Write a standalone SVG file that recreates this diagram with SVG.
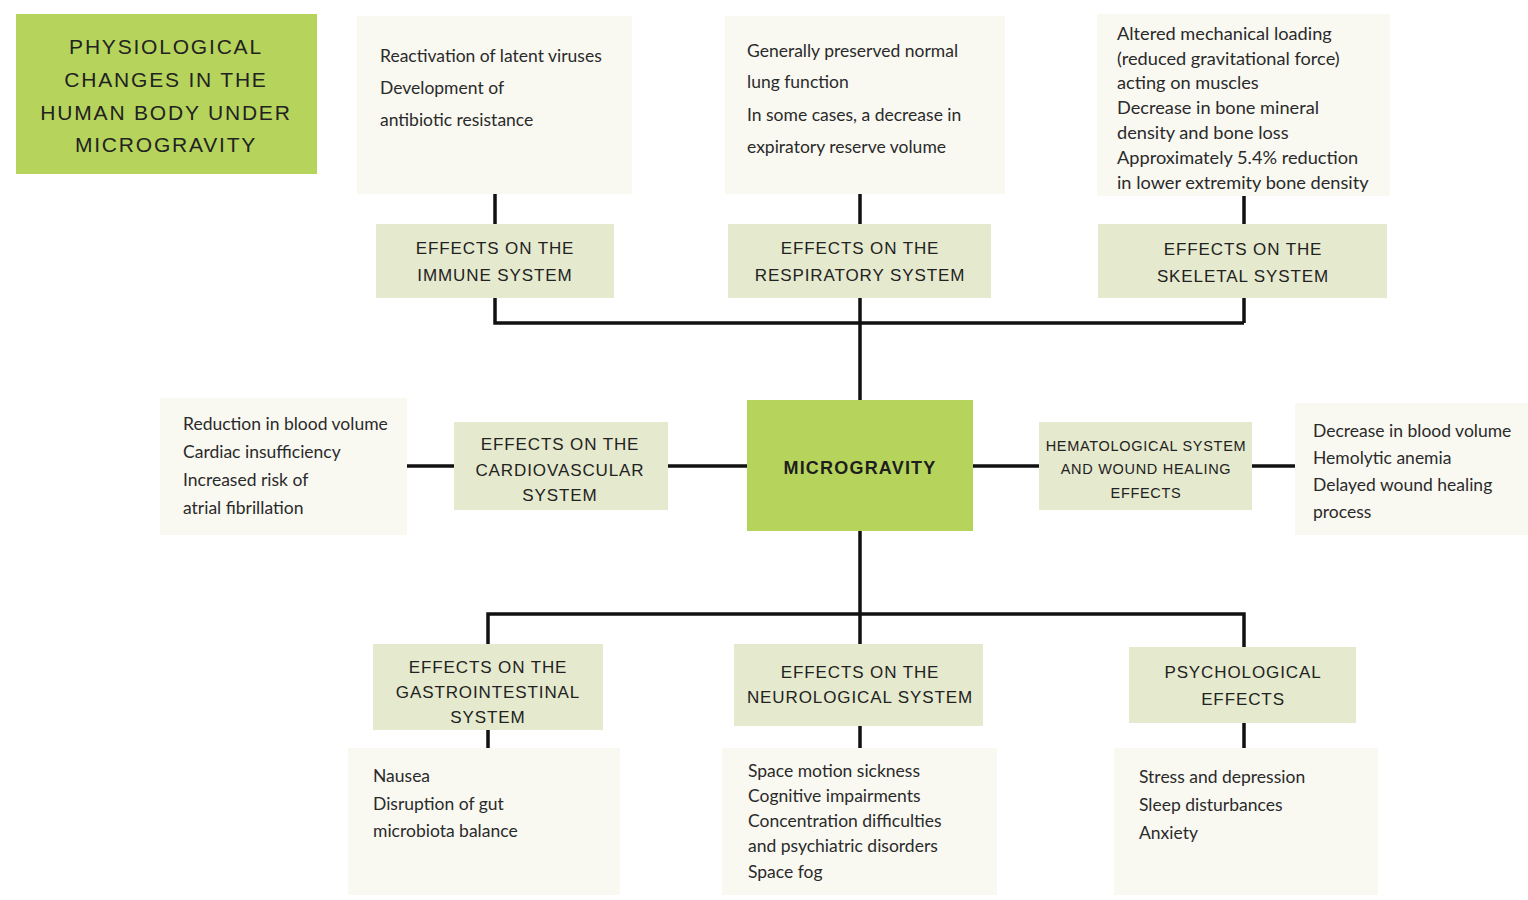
<svg xmlns="http://www.w3.org/2000/svg" width="1528" height="900" viewBox="0 0 1528 900">
<style>
.bg{fill:#ffffff}
.green{fill:#b6d45c}
.head{fill:#e5e9cd}
.box{fill:#f9f9f2}
.ht{font-family:"Liberation Sans",Arial,sans-serif;font-size:17px;letter-spacing:0.9px;fill:#222;text-anchor:middle}
.hs{font-family:"Liberation Sans",Arial,sans-serif;font-size:14.5px;letter-spacing:0.7px;fill:#222;text-anchor:middle}
.tt{font-family:"Liberation Sans",Arial,sans-serif;font-size:21px;letter-spacing:1.8px;fill:#222;text-anchor:middle}
.mt{font-family:"Liberation Sans",Arial,sans-serif;font-size:18px;font-weight:bold;letter-spacing:1.2px;fill:#1e1e1e;text-anchor:middle}
.bt{font-family:Lato,"Liberation Sans",sans-serif;font-size:17.5px;fill:#2a2a2a}
.bw{font-size:18.2px}
.conn{stroke:#111;stroke-width:3.5;fill:none}
</style>
<rect class="bg" x="0" y="0" width="1528" height="900"/>
<g id="connectors">
<path class="conn" d="M495 194V224M495 298V323H1244M860 194V224M860 298V400M1244 196V224M1244 298V323"/>
<path class="conn" d="M407 466H454M668 466H747M973 466H1039M1252 466H1295"/>
<path class="conn" d="M860 531V614M488 644V614H1244V647M860 614V644"/>
<path class="conn" d="M488 730V748M860 726V748M1244 723V748"/>
</g>
<g id="title">
<rect class="green" x="16" y="14" width="301" height="160"/>
<text class="tt" x="166" y="54">PHYSIOLOGICAL</text>
<text class="tt" x="166" y="87">CHANGES IN THE</text>
<text class="tt" x="166" y="120">HUMAN BODY UNDER</text>
<text class="tt" x="166" y="152">MICROGRAVITY</text>
</g>
<g id="immune-text">
<rect class="box" x="357" y="16" width="275" height="178"/>
<text class="bt" x="380" y="62">Reactivation of latent viruses</text>
<text class="bt" x="380" y="94">Development of</text>
<text class="bt" x="380" y="126">antibiotic resistance</text>
</g>
<g id="respiratory-text">
<rect class="box" x="725" y="16" width="280" height="178"/>
<text class="bt" x="747" y="57">Generally preserved normal</text>
<text class="bt" x="747" y="88">lung function</text>
<text class="bt" x="747" y="121">In some cases, a decrease in</text>
<text class="bt" x="747" y="153">expiratory reserve volume</text>
</g>
<g id="skeletal-text">
<rect class="box" x="1097" y="14" width="293" height="182"/>
<text class="bt bw" x="1117" y="40">Altered mechanical loading</text>
<text class="bt bw" x="1117" y="65">(reduced gravitational force)</text>
<text class="bt bw" x="1117" y="89">acting on muscles</text>
<text class="bt bw" x="1117" y="114">Decrease in bone mineral</text>
<text class="bt bw" x="1117" y="139">density and bone loss</text>
<text class="bt bw" x="1117" y="164">Approximately 5.4% reduction</text>
<text class="bt bw" x="1117" y="189">in lower extremity bone density</text>
</g>
<g id="immune">
<rect class="head" x="376" y="224" width="238" height="74"/>
<text class="ht" x="495" y="254">EFFECTS ON THE</text>
<text class="ht" x="495" y="281">IMMUNE SYSTEM</text>
</g>
<g id="respiratory">
<rect class="head" x="728" y="224" width="263" height="74"/>
<text class="ht" x="860" y="254">EFFECTS ON THE</text>
<text class="ht" x="860" y="281">RESPIRATORY SYSTEM</text>
</g>
<g id="skeletal">
<rect class="head" x="1098" y="224" width="289" height="74"/>
<text class="ht" x="1243" y="255">EFFECTS ON THE</text>
<text class="ht" x="1243" y="282">SKELETAL SYSTEM</text>
</g>
<g id="microgravity">
<rect class="green" x="747" y="400" width="226" height="131"/>
<text class="mt" x="860" y="474">MICROGRAVITY</text>
</g>
<g id="cardio-text">
<rect class="box" x="160" y="398" width="247" height="137"/>
<text class="bt" x="183" y="430">Reduction in blood volume</text>
<text class="bt" x="183" y="458">Cardiac insufficiency</text>
<text class="bt" x="183" y="486">Increased risk of</text>
<text class="bt" x="183" y="514">atrial fibrillation</text>
</g>
<g id="cardiovascular">
<rect class="head" x="454" y="422" width="214" height="88"/>
<text class="ht" x="560" y="450">EFFECTS ON THE</text>
<text class="ht" x="560" y="476">CARDIOVASCULAR</text>
<text class="ht" x="560" y="501">SYSTEM</text>
</g>
<g id="hematological">
<rect class="head" x="1039" y="422" width="213" height="88"/>
<text class="hs" x="1146" y="451">HEMATOLOGICAL SYSTEM</text>
<text class="hs" x="1146" y="474">AND WOUND HEALING</text>
<text class="hs" x="1146" y="498">EFFECTS</text>
</g>
<g id="hemat-text">
<rect class="box" x="1295" y="403" width="233" height="132"/>
<text class="bt" x="1313" y="437">Decrease in blood volume</text>
<text class="bt" x="1313" y="464">Hemolytic anemia</text>
<text class="bt" x="1313" y="491">Delayed wound healing</text>
<text class="bt" x="1313" y="518">process</text>
</g>
<g id="gastrointestinal">
<rect class="head" x="373" y="644" width="230" height="86"/>
<text class="ht" x="488" y="673">EFFECTS ON THE</text>
<text class="ht" x="488" y="698">GASTROINTESTINAL</text>
<text class="ht" x="488" y="723">SYSTEM</text>
</g>
<g id="neurological">
<rect class="head" x="734" y="644" width="249" height="82"/>
<text class="ht" x="860" y="678">EFFECTS ON THE</text>
<text class="ht" x="860" y="703">NEUROLOGICAL SYSTEM</text>
</g>
<g id="psychological">
<rect class="head" x="1129" y="647" width="227" height="76"/>
<text class="ht" x="1243" y="678">PSYCHOLOGICAL</text>
<text class="ht" x="1243" y="705">EFFECTS</text>
</g>
<g id="gi-text">
<rect class="box" x="348" y="748" width="272" height="147"/>
<text class="bt" x="373" y="782">Nausea</text>
<text class="bt" x="373" y="810">Disruption of gut</text>
<text class="bt" x="373" y="837">microbiota balance</text>
</g>
<g id="neuro-text">
<rect class="box" x="722" y="748" width="275" height="147"/>
<text class="bt" x="748" y="777">Space motion sickness</text>
<text class="bt" x="748" y="802">Cognitive impairments</text>
<text class="bt" x="748" y="827">Concentration difficulties</text>
<text class="bt" x="748" y="852">and psychiatric disorders</text>
<text class="bt" x="748" y="878">Space fog</text>
</g>
<g id="psych-text">
<rect class="box" x="1114" y="748" width="264" height="147"/>
<text class="bt" x="1139" y="783">Stress and depression</text>
<text class="bt" x="1139" y="811">Sleep disturbances</text>
<text class="bt" x="1139" y="839">Anxiety</text>
</g>
</svg>
